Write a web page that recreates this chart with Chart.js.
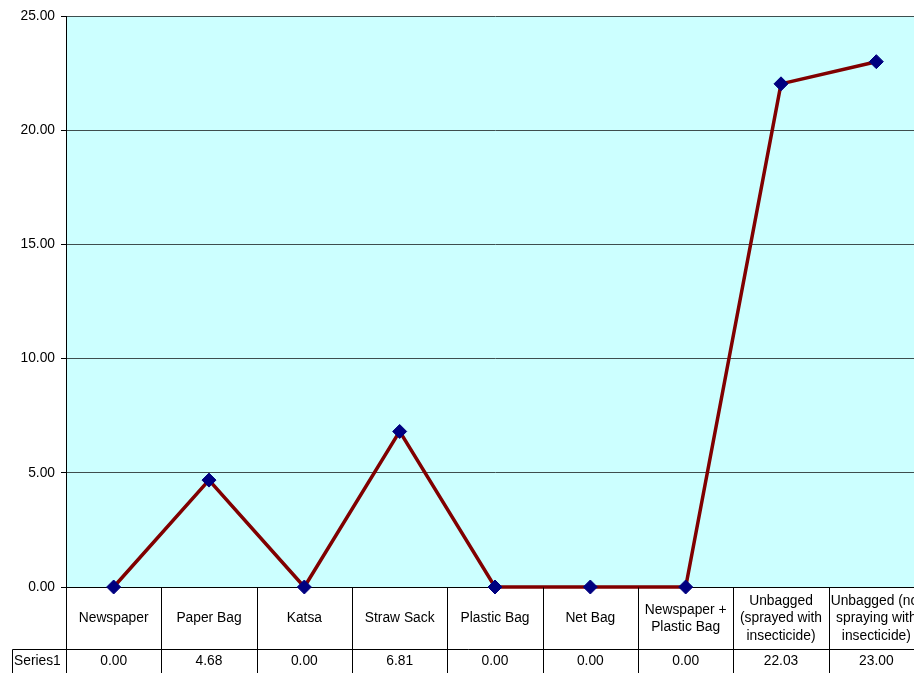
<!DOCTYPE html>
<html>
<head>
<meta charset="utf-8">
<script src="https://cdn.jsdelivr.net/npm/chart.js@4/dist/chart.umd.min.js"></script>
<style>
  html, body { margin: 0; padding: 0; background: #fff; overflow: hidden; }
  #wrap { width: 940px; height: 673px; }
</style>
</head>
<body>
<div id="wrap"><canvas id="chart" width="940" height="673"></canvas></div>
<script>
// categories, split into the lines they wrap to in the table cells
const categories = [
  ['Newspaper'],
  ['Paper Bag'],
  ['Katsa'],
  ['Straw Sack'],
  ['Plastic Bag'],
  ['Net Bag'],
  ['Newspaper +', 'Plastic Bag'],
  ['Unbagged', '(sprayed with', 'insecticide)'],
  ['Unbagged (not', 'spraying with', 'insecticide)']
]
const seriesName = 'Series1'
const series1 = [0.00, 4.68, 0.00, 6.81, 0.00, 0.00, 0.00, 22.03, 23.00]
const yTicks = [0, 5, 10, 15, 20, 25]

const FONT_FAMILY = '"Liberation Sans", Arial, sans-serif'
const FONT_SIZE = 13.8

// cyan plot background and black x axis line
const plotBackground = {
  id: 'plotBackground',
  beforeDraw(chart) {
    const { ctx, chartArea: a } = chart
    ctx.save()
    ctx.fillStyle = '#ccffff'
    ctx.fillRect(a.left, a.top, a.right - a.left, a.bottom - a.top)
    ctx.restore()
  },
  beforeDatasetsDraw(chart) {
    const { ctx, chartArea: a } = chart
    ctx.save()
    ctx.strokeStyle = '#000'
    ctx.lineWidth = 1
    ctx.beginPath()
    ctx.moveTo(a.left, Math.round(a.bottom) + 0.5)
    ctx.lineTo(a.right, Math.round(a.bottom) + 0.5)
    ctx.stroke()
    ctx.restore()
  }
}

// data table under the plot: category row, then the series row
const dataTable = {
  id: 'dataTable',
  afterDraw(chart) {
    const { ctx, chartArea: a } = chart
    const x = chart.scales.x
    const colW = (a.right - a.left) / categories.length
    const top = Math.round(a.bottom) + 0.5
    const rowSplit = 649.5
    const bottom = chart.height

    ctx.save()
    ctx.strokeStyle = '#000'
    ctx.lineWidth = 1
    ctx.beginPath()
    // column borders
    for (let i = 0; i <= categories.length; i++) {
      const px = Math.round(a.left + i * colW) + 0.5
      ctx.moveTo(px, top)
      ctx.lineTo(px, bottom)
    }
    // row border and the series name cell
    ctx.moveTo(12.5, rowSplit)
    ctx.lineTo(a.right, rowSplit)
    ctx.moveTo(12.5, rowSplit)
    ctx.lineTo(12.5, bottom)
    ctx.stroke()

    ctx.fillStyle = '#000'
    ctx.font = FONT_SIZE + 'px ' + FONT_FAMILY
    ctx.textAlign = 'center'
    ctx.textBaseline = 'middle'
    const lineH = 17.5
    const rowMid = (top + rowSplit) / 2
    categories.forEach((lines, i) => {
      const cx = x.getPixelForValue(i)
      const y0 = rowMid - (lines.length - 1) * lineH / 2
      lines.forEach((t, j) => ctx.fillText(t, cx, y0 + j * lineH))
      ctx.fillText(series1[i].toFixed(2), cx, 661)
    })
    ctx.textAlign = 'left'
    ctx.fillText(seriesName, 14, 661)
    ctx.restore()
  }
}

const ctx = document.getElementById('chart').getContext('2d')

new Chart(ctx, {
  type: 'line',
  data: {
    labels: categories.map(c => c.join(' ')),
    datasets: [
      {
        label: seriesName,
        data: series1,
        borderColor: '#800000',
        borderWidth: 3.5,
        tension: 0,
        fill: false,
        pointStyle: 'rectRot',
        pointRadius: 7,
        pointBackgroundColor: '#000080',
        pointBorderColor: '#000080',
        pointBorderWidth: 1,
        clip: false
      }
    ]
  },
  options: {
    responsive: false,
    animation: false,
    layout: { padding: { left: 0, top: 16, right: 16, bottom: 86 } },
    plugins: {
      legend: { display: false },
      tooltip: { enabled: false }
    },
    scales: {
      x: {
        type: 'category',
        display: false,
        offset: true
      },
      y: {
        min: 0,
        max: 25,
        afterFit(scale) { scale.width = 66 },
        afterBuildTicks(scale) { scale.ticks = yTicks.map(v => ({ value: v })) },
        border: { display: true, color: '#000', width: 1 },
        grid: {
          color: '#3e4e4e',
          lineWidth: 1,
          drawTicks: true,
          tickLength: 5,
          tickColor: '#000'
        },
        ticks: {
          padding: 6,
          color: '#000',
          font: { family: FONT_FAMILY, size: FONT_SIZE },
          callback: v => Number(v).toFixed(2)
        }
      }
    }
  },
  plugins: [plotBackground, dataTable]
})
</script>
</body>
</html>
